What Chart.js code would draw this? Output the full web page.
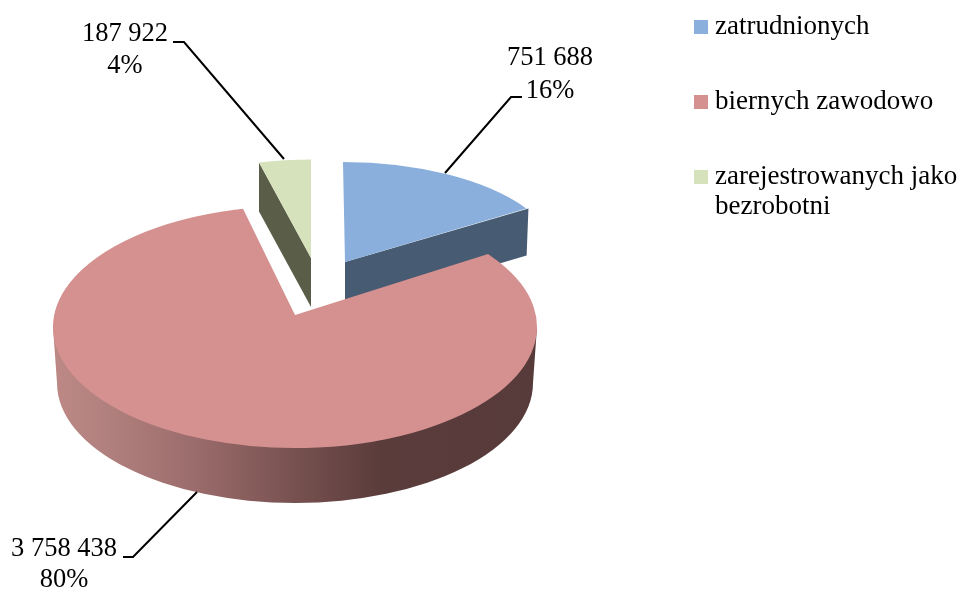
<!DOCTYPE html>
<html>
<head>
<meta charset="utf-8">
<style>html,body{margin:0;padding:0;background:#fff}canvas{display:block}</style>
<script src="https://cdn.jsdelivr.net/npm/chart.js@4"></script>
</head>
<body>
<canvas id="c" width="960" height="589"></canvas>
<script>
const categories = ['zatrudnionych', 'biernych zawodowo', ['zarejestrowanych jako', 'bezrobotni']];
const values = [751688, 3758438, 187922];
const colors = ['#8aafdc', '#d59190', '#d6e2bb'];
const sideColors = ['#475b72', null, '#5a5e49'];

const FONT = '"Liberation Serif", "Times New Roman", serif';
const deg = Math.PI / 180;

// Oblique-view layout of each slice: centre, radii, depth, perspective tweaks.
const view = [
  {cx: 345, cy: 262, rx: 216, ry: 100, skew: 2, depth: 47, taper: 0.99, edge: 'endAngle'},
  {cx: 295, cy: 327, rx: 242, ry: 121, skew: 0, depth: 56, bottomRx: 238, bottomRy: 120,
   apexLift: 12, startShift: -4.7 * deg, endShift: 2 * deg},
  {cx: 311, cy: 258, rx: 209, ry: 98.5, skew: 0, depth: 49, taper: 1, edge: 'startAngle'}
];
const wallStops = [[0, '#bc8885'], [0.09, '#b28280'], [0.3, '#996b6a'], [0.5, '#775150'], [0.68, '#5a3c3b'], [1, '#573a3a']];

// Callouts: text anchor and leader line.
const callouts = [
  {x: 550, y: 65, dy: 33, line: [[522, 97], [511, 97], [445, 173]]},
  {x: 64, y: 556, dy: 31, line: [[123, 557], [133, 557], [197, 492]]},
  {x: 125, y: 41, dy: 32, line: [[173, 42], [184, 42], [284, 159]]}
];
const legendAt = {left: 652.5, top: -34.5};

function project(v, a, k = 1) {
  return [v.cx + k * (v.rx * Math.cos(a) - v.skew * Math.sin(a)), v.cy + k * v.ry * Math.sin(a)];
}

const pie3d = {
  id: 'pie3d',
  beforeDraw(chart) {
    chart.legend.left = legendAt.left;
    chart.legend.top = legendAt.top;
  },
  beforeDatasetDraw(chart, args) {
    const ctx = chart.ctx;
    const els = args.meta.data;
    [2, 0, 1].forEach(i => {
      const el = els[i], v = view[i], R = el.outerRadius;
      // side face
      if (v.edge) {
        const p = project(v, el[v.edge]);
        ctx.fillStyle = sideColors[i];
        ctx.beginPath();
        ctx.moveTo(v.cx, v.cy);
        ctx.lineTo(p[0], p[1]);
        ctx.lineTo(v.cx + (p[0] - v.cx) * v.taper, p[1] + v.depth);
        ctx.lineTo(v.cx, v.cy + v.depth);
        ctx.closePath();
        ctx.fill();
      } else {
        const x0 = v.cx - v.bottomRx, x1 = v.cx + v.bottomRx;
        const g = ctx.createLinearGradient(x0, 0, x1, 0);
        wallStops.forEach(s => g.addColorStop(s[0], s[1]));
        ctx.fillStyle = g;
        ctx.beginPath();
        ctx.moveTo(v.cx - v.rx, v.cy);
        ctx.lineTo(x0, v.cy + v.depth);
        ctx.ellipse(v.cx, v.cy + v.depth, v.bottomRx, v.bottomRy, 0, Math.PI, 0, true);
        ctx.lineTo(v.cx + v.rx, v.cy);
        ctx.closePath();
        ctx.fill();
      }
      // top face: the library's own arc, squashed into the oblique view
      ctx.save();
      ctx.translate(v.cx, v.cy);
      ctx.transform(v.rx / R, 0, v.skew / R, v.ry / R, 0, 0);
      ctx.translate(-el.x, -el.y);
      el.draw(ctx);
      ctx.restore();
      // perspective shifts the notch corners and tip of the big slice;
      // the patch overlaps the arc's interior so no seam shows
      if (v.apexLift) {
        const a = project(v, el.startAngle), b = project(v, el.startAngle + v.startShift);
        const c = project(v, el.endAngle + v.endShift), d = project(v, el.endAngle);
        const a2 = project(v, el.startAngle + 8 * deg, 0.95), d2 = project(v, el.endAngle - 8 * deg, 0.95);
        ctx.fillStyle = colors[i];
        ctx.beginPath();
        ctx.moveTo(v.cx, v.cy + 12);
        ctx.lineTo(a2[0], a2[1]);
        ctx.lineTo(a[0], a[1]);
        ctx.lineTo(b[0], b[1]);
        ctx.lineTo(v.cx, v.cy - v.apexLift);
        ctx.lineTo(c[0], c[1]);
        ctx.lineTo(d[0], d[1]);
        ctx.lineTo(d2[0], d2[1]);
        ctx.closePath();
        ctx.fill();
      }
    });
    return false;
  },
  afterDraw(chart) {
    const ctx = chart.ctx;
    const total = values.reduce((s, x) => s + x, 0);
    ctx.save();
    ctx.strokeStyle = '#000';
    ctx.lineWidth = 2;
    ctx.fillStyle = '#000';
    ctx.font = '26.5px ' + FONT;
    ctx.textAlign = 'center';
    ctx.textBaseline = 'alphabetic';
    callouts.forEach((c, i) => {
      ctx.beginPath();
      c.line.forEach((p, k) => k ? ctx.lineTo(p[0], p[1]) : ctx.moveTo(p[0], p[1]));
      ctx.stroke();
      ctx.fillText(String(values[i]).replace(/\B(?=(\d{3})+$)/g, ' '), c.x, c.y);
      ctx.fillText(Math.round(values[i] / total * 100) + '%', c.x, c.y + c.dy);
    });
    ctx.restore();
  }
};

new Chart(document.getElementById('c'), {
  type: 'pie',
  data: {
    labels: categories,
    datasets: [{data: values, backgroundColor: colors, borderWidth: 0, hoverOffset: 0}]
  },
  options: {
    responsive: false,
    animation: false,
    layout: {padding: 0},
    plugins: {
      tooltip: {enabled: false},
      legend: {
        position: 'right',
        align: 'start',
        labels: {
          color: '#000',
          font: {family: FONT, size: 27, lineHeight: 1.11},
          usePointStyle: true,
          pointStyle: 'rect',
          boxWidth: 1,
          boxHeight: 14,
          padding: 48
        }
      }
    }
  },
  plugins: [pie3d]
});
</script>
</body>
</html>
